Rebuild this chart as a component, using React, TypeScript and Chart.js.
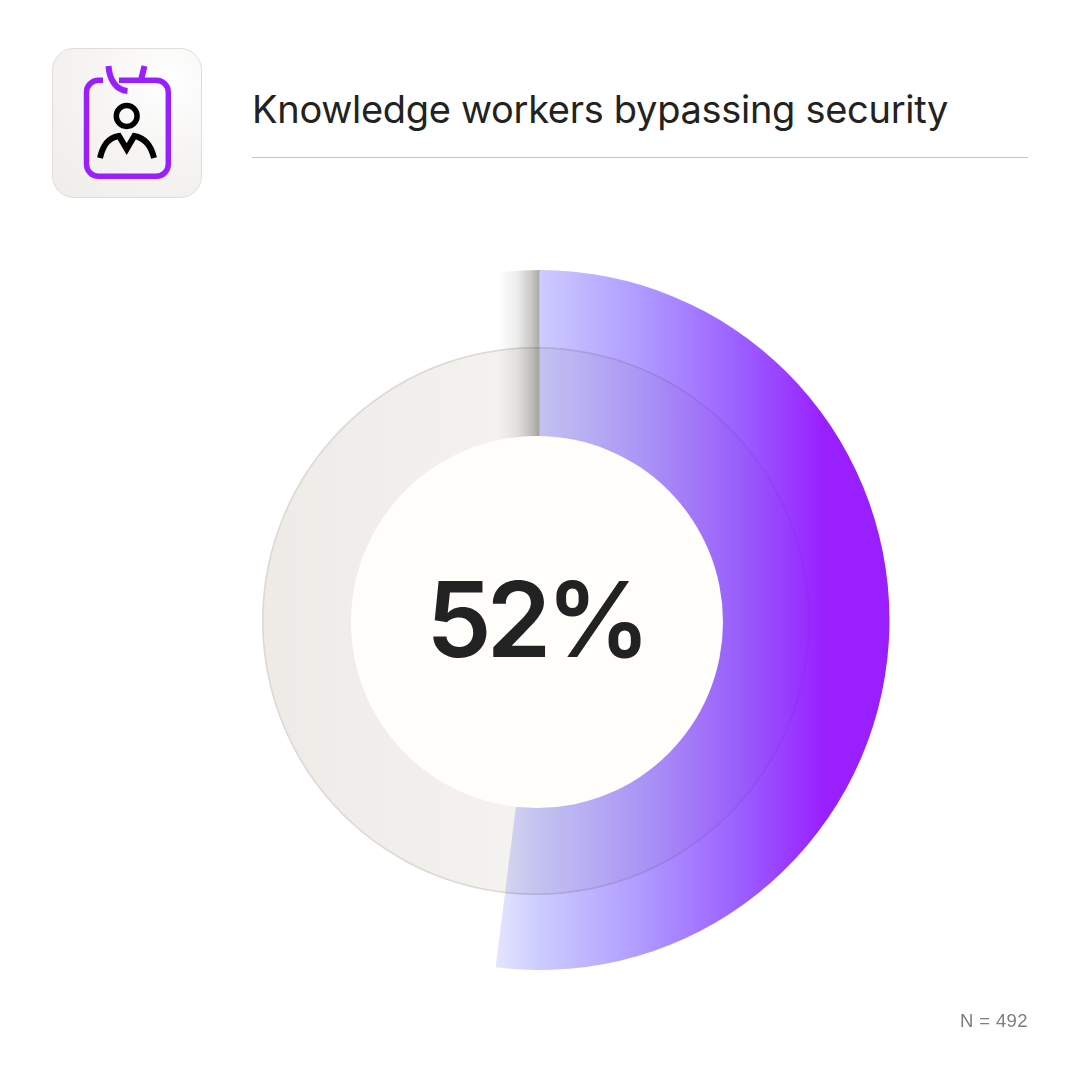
import React, { useEffect, useRef } from "react";
import { Chart, registerables } from "chart.js";

Chart.register(...registerables);

const titleText = "Knowledge workers bypassing security";
const sampleText = "N = 492";
const segmentLabels = ["Bypassing security", "Others"];
const shareValues = [52, 48];
const backdropValues = [100];

const SIZE = 1080;

function shadowPattern(ctx: CanvasRenderingContext2D) {
  const off = document.createElement("canvas");
  off.width = SIZE;
  off.height = SIZE;
  const o = off.getContext("2d")!;
  const g = o.createLinearGradient(498, 0, 539.5, 0);
  g.addColorStop(0, "rgba(60,58,52,0)");
  g.addColorStop(0.45, "rgba(60,58,52,0.09)");
  g.addColorStop(0.8, "rgba(60,58,52,0.27)");
  g.addColorStop(1, "rgba(60,58,52,0.44)");
  o.fillStyle = g;
  o.fillRect(0, 0, SIZE, 620);
  return ctx.createPattern(off, "no-repeat")!;
}

function purpleGradient(ctx: CanvasRenderingContext2D) {
  const g = ctx.createLinearGradient(497, 0, 850, 0);
  g.addColorStop(0, "#e4e4ff");
  g.addColorStop(0.12, "#ccccff");
  g.addColorStop(0.4, "#b09cff");
  g.addColorStop(0.7, "#9b5cff");
  g.addColorStop(0.93, "#991fff");
  g.addColorStop(1, "#991fff");
  return g;
}

function ringGradient(ctx: CanvasRenderingContext2D) {
  const g = ctx.createLinearGradient(262, 0, 810, 0);
  g.addColorStop(0, "#eeebe7");
  g.addColorStop(0.5, "#f4f3f0");
  g.addColorStop(0.75, "#f9f8f7");
  g.addColorStop(1, "#fefefe");
  return g;
}

function ringEdgeGradient(ctx: CanvasRenderingContext2D) {
  const g = ctx.createLinearGradient(262, 0, 810, 0);
  g.addColorStop(0, "#dcd8d2");
  g.addColorStop(0.5, "#dedad6");
  g.addColorStop(1, "#f4f1f6");
  return g;
}

const layer: React.CSSProperties = { position: "absolute", left: 0, top: 0, width: SIZE, height: SIZE };

export default function App() {
  const ringRef = useRef<HTMLCanvasElement>(null);
  const shareRef = useRef<HTMLCanvasElement>(null);

  useEffect(() => {
    document.body.style.margin = "0";
    document.body.style.background = "#ffffff";

    const ringCtx = ringRef.current!.getContext("2d")!;
    const ring = new Chart(ringCtx, {
      type: "doughnut",
      data: {
        labels: ["Total"],
        datasets: [
          { data: backdropValues, backgroundColor: [ringEdgeGradient(ringCtx)], borderWidth: 0, weight: 1 },
          { data: backdropValues, backgroundColor: [ringGradient(ringCtx)], borderWidth: 0, weight: 93 },
        ],
      },
      options: {
        animation: false,
        responsive: false,
        radius: 274,
        cutout: 180,
        layout: { padding: { left: 0, right: 8, top: 162, bottom: 0 } },
        plugins: { legend: { display: false }, tooltip: { enabled: false } },
      },
    });

    const shareCtx = shareRef.current!.getContext("2d")!;
    const share = new Chart(shareCtx, {
      type: "doughnut",
      data: {
        labels: segmentLabels,
        datasets: [
          {
            data: shareValues,
            backgroundColor: [purpleGradient(shareCtx), shadowPattern(shareCtx)],
            borderWidth: 0,
          },
        ],
      },
      options: {
        animation: false,
        responsive: false,
        radius: 350,
        cutout: 178,
        layout: { padding: { left: 0, right: 1, top: 160, bottom: 0 } },
        plugins: { legend: { display: false }, tooltip: { enabled: false } },
      },
    });

    return () => {
      ring.destroy();
      share.destroy();
    };
  }, []);

  return (
    <div style={{ position: "relative", width: SIZE, height: SIZE, background: "#fff", overflow: "hidden", isolation: "isolate" }}>
      <div
        style={{
          position: "absolute",
          left: 52,
          top: 48,
          width: 150,
          height: 150,
          boxSizing: "border-box",
          borderRadius: 22,
          border: "1px solid #e2ddd6",
          background: "radial-gradient(circle at 78% 22%, #ffffff 0%, #f6f5f3 45%, #efedea 100%)",
        }}
      />
      <svg style={{ ...layer }} width={SIZE} height={SIZE} fill="none">
        <path d="M103 80.2H98.5a12 12 0 0 0 -12 12V164.2a12 12 0 0 0 12 12H156.3a12 12 0 0 0 12 -12V92.2a12 12 0 0 0 -12 -12H119" stroke="#991fff" strokeWidth={5.5} />
        <path d="M108.5 66C109.5 80 116 90 127.5 91" stroke="#991fff" strokeWidth={6} />
        <path d="M144.5 66L141 80" stroke="#991fff" strokeWidth={6} />
        <circle cx={126.7} cy={116} r={10.4} stroke="#000" strokeWidth={5.5} />
        <path d="M100 158C103 145 108 138 119 136L126.7 149L134.3 136C145 138 151 145 154 158" stroke="#000" strokeWidth={6} />
      </svg>

      <div
        style={{
          position: "absolute",
          left: 252,
          top: 85,
          whiteSpace: "nowrap",
          fontFamily: "Inter, sans-serif",
          fontSize: 38,
          fontWeight: 400,
          lineHeight: "48px",
          letterSpacing: "-0.3px",
          color: "#222222",
        }}
      >
        {titleText}
      </div>
      <div style={{ position: "absolute", left: 252, top: 157, width: 776, height: 1, background: "#c8c6c6" }} />

      <canvas ref={ringRef} width={SIZE} height={SIZE} style={{ ...layer, display: "block" }} />
      <canvas ref={shareRef} width={SIZE} height={SIZE} style={{ ...layer, display: "block", mixBlendMode: "multiply" }} />

      <div
        style={{
          position: "absolute",
          left: 536.5 - 186,
          top: 621.5 - 186,
          width: 372,
          height: 372,
          borderRadius: "50%",
          background: "#fffefa",
        }}
      />
      <div
        style={{
          position: "absolute",
          left: 350,
          width: 372,
          top: 554,
          textAlign: "center",
          fontFamily: "Inter, sans-serif",
          fontSize: 104,
          fontWeight: 600,
          lineHeight: "130px",
          letterSpacing: "-5px",
          color: "#222222",
        }}
      >
        {shareValues[0]}%
      </div>

      <div
        style={{
          position: "absolute",
          right: 52,
          top: 1010,
          fontFamily: "'Liberation Sans', sans-serif",
          fontSize: 18.5,
          lineHeight: "22px",
          letterSpacing: "0.4px",
          color: "#7c7c82",
        }}
      >
        {sampleText}
      </div>
    </div>
  );
}
